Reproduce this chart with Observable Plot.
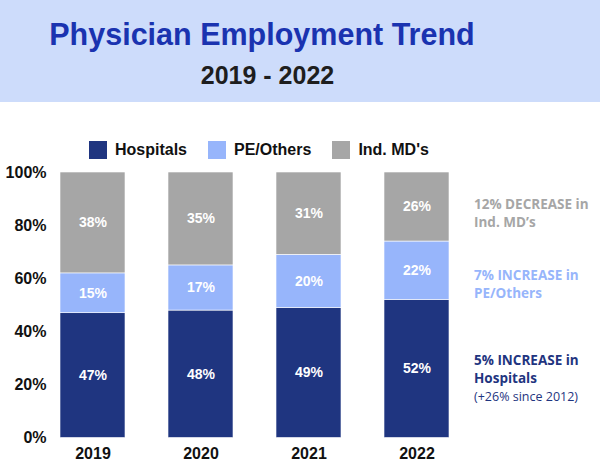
<!DOCTYPE html>
<html>
<head>
<meta charset="utf-8">
<script src="https://cdn.jsdelivr.net/npm/d3@7"></script>
<script src="https://cdn.jsdelivr.net/npm/@observablehq/plot@0.6"></script>
<style>
  html, body { margin: 0; padding: 0; background: #ffffff; }
  #wrap { position: relative; width: 600px; height: 467px; overflow: hidden; font-family: "Liberation Sans", Arial, sans-serif; }
  #header { position: absolute; left: 0; top: 0; width: 600px; height: 102px; background: #cddcfb; }
  #title { position: absolute; left: 0; width: 524px; top: 15px; text-align: center; font-size: 30.5px; font-weight: bold; color: #1a33b0; line-height: 38px; }
  #subtitle { position: absolute; left: 0; width: 535px; top: 59px; text-align: center; font-size: 25px; font-weight: bold; color: #1e1e1e; line-height: 32px; }
  #legend { position: absolute; left: 89px; top: 140px; display: flex; gap: 21px; font-size: 16px; font-weight: bold; color: #111; }
  .item { display: flex; align-items: center; gap: 8px; line-height: 20px; }
  .sw { width: 18px; height: 18px; display: inline-block; }
  #chart { position: absolute; left: 0; top: 103px; }
  .note { position: absolute; left: 474px; font-family: "Open Sans", sans-serif; font-size: 13.5px; font-weight: 700; line-height: 18px; white-space: nowrap; }
  .small { font-size: 12.5px; font-weight: 400; }
</style>
</head>
<body>
<div id="wrap">
  <div id="header">
    <div id="title">Physician Employment Trend</div>
    <div id="subtitle">2019 - 2022</div>
  </div>
  <div id="legend"></div>
  <div id="chart"></div>
  <div id="notes"></div>
</div>
<script>
const years = ["2019", "2020", "2021", "2022"];
const seriesNames = ["Hospitals", "PE/Others", "Ind. MD's"];
const hospitals = [47, 48, 49, 52];
const peOthers = [15, 17, 20, 22];
const indMDs = [38, 35, 31, 26];
const yTicks = [0, 20, 40, 60, 80, 100];
const seriesColors = ["#1f3580", "#97b5fb", "#a6a6a6"];
const notes = [
  {lines: ["12% DECREASE in", "Ind. MD’s"], color: "#a6a6a6", top: 195},
  {lines: ["7% INCREASE in", "PE/Others"], color: "#97b5fb", top: 266},
  {lines: ["5% INCREASE in", "Hospitals"], small: "(+26% since 2012)", color: "#1f3580", top: 351}
];

const rows = years.flatMap((yr, i) => [
  {year: yr, series: seriesNames[0], value: hospitals[i]},
  {year: yr, series: seriesNames[1], value: peOthers[i]},
  {year: yr, series: seriesNames[2], value: indMDs[i]}
]);

// legend
const legend = document.getElementById("legend");
seriesNames.forEach((s, i) => {
  const it = document.createElement("div");
  it.className = "item";
  const sw = document.createElement("span");
  sw.className = "sw";
  sw.style.background = seriesColors[i];
  const t = document.createElement("span");
  t.textContent = s;
  it.appendChild(sw); it.appendChild(t);
  legend.appendChild(it);
});

// notes
const notesEl = document.getElementById("notes");
notes.forEach(n => {
  const d = document.createElement("div");
  d.className = "note";
  d.style.top = n.top + "px";
  d.style.color = n.color;
  d.innerHTML = n.lines.join("<br>") + (n.small ? `<br><span class="small">${n.small}</span>` : "");
  notesEl.appendChild(d);
});

const chart = Plot.plot({
  width: 600,
  height: 364,
  marginTop: 69,
  marginBottom: 29.5,
  marginLeft: 50,
  marginRight: 140.5,
  style: {fontFamily: "'Liberation Sans', Arial, sans-serif", fontSize: "16px", fontWeight: "bold", color: "#111", background: "transparent"},
  x: {domain: years, paddingInner: 0.4026, paddingOuter: 0.083, label: null},
  y: {domain: [0, 100], label: null},
  color: {domain: seriesNames, range: seriesColors},
  marks: [
    Plot.barY(rows, {x: "year", y: "value", fill: "series", order: seriesNames, stroke: "white", strokeWidth: 0.6}),
    Plot.text(rows, Plot.stackY({x: "year", y: "value", z: "series", order: seriesNames,
      text: d => d.value + "%", fill: "white", fontSize: 14, fontWeight: "bold"})),
    Plot.axisX({tickSize: 0, tickPadding: 10, label: null, fontSize: 16, fontWeight: "bold"}),
    Plot.axisY({ticks: yTicks, tickSize: 0, tickPadding: 4, tickFormat: d => d + "%", label: null, fontSize: 16, fontWeight: "bold"})
  ]
});
document.getElementById("chart").appendChild(chart);
</script>
</body>
</html>
